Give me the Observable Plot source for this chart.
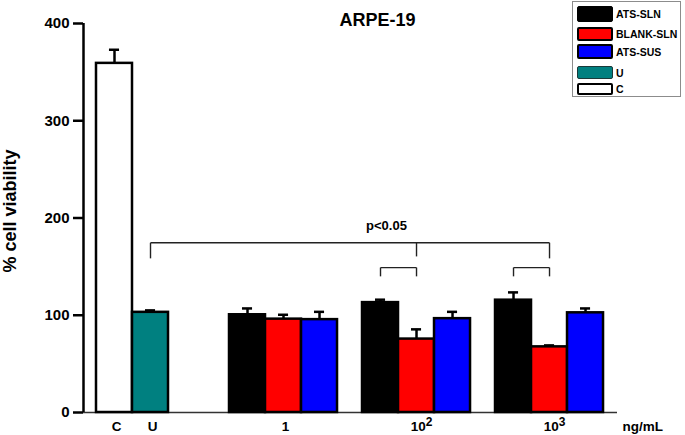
<!DOCTYPE html>
<html><head><meta charset="utf-8">
<script src="https://cdn.jsdelivr.net/npm/d3@7"></script>
<script src="https://cdn.jsdelivr.net/npm/@observablehq/plot@0.6"></script>
<style>
body{margin:0;background:#fff;font-family:"Liberation Sans",Arial,sans-serif;}
#wrap{position:relative;width:685px;height:435px;}
#legend{position:absolute;left:572px;top:1px;width:109px;height:96px;border:1.5px solid #8c8c8c;box-sizing:border-box;background:#fff;}
.sw{position:absolute;left:4px;width:36px;box-sizing:border-box;border-radius:2px;border:solid #000;}
.lb{position:absolute;left:43px;font-weight:bold;font-size:10.5px;line-height:12px;color:#000;}
svg text{font-family:"Liberation Sans",Arial,sans-serif;}
</style></head><body><div id="wrap"></div>
<script>
const title = "ARPE-19";
const yLabel = "% cell viability";
const unitLabel = "ng/mL";
const sigLabel = "p<0.05";
const controls = ["C", "U"];
const controlValues = [359, 103];
const controlErrors = [14, 2];
const controlColors = ["#ffffff", "#008080"];
const doses = ["1", "10²", "10³"];
const formulations = ["ATS-SLN", "BLANK-SLN", "ATS-SUS"];
const formulationColors = ["#000000", "#ff0000", "#0000ff"];
const atsSln = [100.5, 113, 115.5];
const atsSlnErr = [6.5, 3, 8];
const blankSln = [96, 75.5, 67.5];
const blankSlnErr = [4.5, 10, 1.5];
const atsSus = [95.5, 96.5, 102.5];
const atsSusErr = [8, 7, 4.5];
const yTicks = [0, 100, 200, 300, 400];
// significance brackets (levels in % viability)
const mainBracket = {from: "U", mid: ["10²", "BLANK-SLN"], to: ["10³", "BLANK-SLN"], top: 174.5, sideEnd: 158.5, midEnd: 160.5};
const pairBrackets = [["10²", "ATS-SLN", "BLANK-SLN"], ["10³", "ATS-SLN", "BLANK-SLN"]];
const pairTop = 149, pairEnd = 140;
const sigLevel = 174.5;

// ---- layout (bar-width units) ----
const GROUP_STEP = 3.694;
const XMIN = -0.361, XMAX = 14.47;
const seriesVals = [atsSln, blankSln, atsSus];
const seriesErrs = [atsSlnErr, blankSlnErr, atsSusErr];
const bars = [];
controls.forEach((c, i) => bars.push({key: c, value: controlValues[i], err: controlErrors[i], fill: controlColors[i], x1: i, upperOnly: c === "C"}));
doses.forEach((d, di) => formulations.forEach((f, fi) => bars.push({key: d + "|" + f, value: seriesVals[fi][di], err: seriesErrs[fi][di], fill: formulationColors[fi], x1: (di + 1) * GROUP_STEP + fi, upperOnly: false})));
bars.forEach(b => { b.x2 = b.x1 + 1; b.cx = b.x1 + 0.5; });
const cxOf = k => bars.find(b => b.key === k).cx;
const CAP = 0.14;
const caps = [];
bars.forEach(b => { caps.push({y: b.value + b.err, cx: b.cx}); if (!b.upperOnly) caps.push({y: b.value - b.err, cx: b.cx}); });

const controlLabels = controls.map(c => ({text: c, x: cxOf(c)}));
const doseLabelsShort = doses.filter(d => d.length === 1).map(d => ({text: d, x: cxOf(d + "|" + formulations[1])}));
const doseLabelsPow = doses.filter(d => d.length > 1).map(d => ({text: d, x: cxOf(d + "|" + formulations[1])}));

const uX = cxOf(mainBracket.from), midX = cxOf(mainBracket.mid.join("|")), toX = cxOf(mainBracket.to.join("|"));
const segs = [
  {x1: uX, y1: mainBracket.sideEnd, x2: uX, y2: mainBracket.top},
  {x1: uX, y1: mainBracket.top, x2: toX, y2: mainBracket.top},
  {x1: toX, y1: mainBracket.top, x2: toX, y2: mainBracket.sideEnd},
  {x1: midX, y1: mainBracket.top, x2: midX, y2: mainBracket.midEnd}
];
pairBrackets.forEach(([d, a, b]) => {
  const xa = cxOf(d + "|" + a), xb = cxOf(d + "|" + b);
  segs.push({x1: xa, y1: pairEnd, x2: xa, y2: pairTop}, {x1: xa, y1: pairTop, x2: xb, y2: pairTop}, {x1: xb, y1: pairTop, x2: xb, y2: pairEnd});
});

const labelStyle = {x: "x", y: d => 0, text: "text", lineAnchor: "top", dy: 9, fontSize: 13.5, fontWeight: "bold"};
const plot = Plot.plot({
  width: 685, height: 435,
  marginLeft: 83, marginRight: 68, marginTop: 23, marginBottom: 23,
  x: {type: "linear", domain: [XMIN, XMAX], axis: null},
  y: {domain: [0, 400], axis: null},
  marks: [
    Plot.ruleY([0], {stroke: "#333", strokeWidth: 1.5}),
    Plot.ruleX(bars, {x: "cx", y1: d => d.upperOnly ? d.value : d.value - d.err, y2: d => d.value + d.err, stroke: "#000", strokeWidth: 2.5}),
    Plot.ruleY(caps, {y: "y", x1: d => d.cx - CAP, x2: d => d.cx + CAP, stroke: "#000", strokeWidth: 2.5}),
    Plot.rect(bars, {x1: "x1", x2: "x2", y1: d => 0, y2: "value", fill: "fill", stroke: "#000", strokeWidth: 2.5}),
    Plot.axisY({ticks: yTicks, tickSize: 10, tickPadding: 4, tickFormat: d => String(d), fontSize: 15, fontWeight: "bold", strokeWidth: 2.5, label: null}),
    Plot.ruleX([XMIN], {y1: d => 0, y2: d => 400, stroke: "#000", strokeWidth: 2.5}),
    Plot.link(segs, {x1: "x1", y1: "y1", x2: "x2", y2: "y2", stroke: "#222", strokeWidth: 1.4}),
    Plot.text([sigLabel], {x: d => cxOf(doses[1] + "|" + formulations[0]), y: d => sigLevel, dx: 6, dy: -13, lineAnchor: "bottom", fontSize: 13, fontWeight: "bold"}),
    Plot.text(controlLabels, {...labelStyle, dx: 2}),
    Plot.text(doseLabelsShort, {...labelStyle, dx: 2}),
    Plot.text(doseLabelsPow, {...labelStyle, dx: 5}),
    Plot.text([unitLabel], {frameAnchor: "bottom-right", textAnchor: "start", lineAnchor: "top", dx: 5, dy: 9, fontSize: 13.5, fontWeight: "bold"}),
    Plot.text([title], {frameAnchor: "top", dx: 27, dy: -3, lineAnchor: "middle", fontSize: 18, fontWeight: "bold"}),
    Plot.text([yLabel], {frameAnchor: "left", textAnchor: "middle", rotate: -90, dx: -80, dy: -7, lineAnchor: "top", fontSize: 18, fontWeight: "bold"})
  ]
});
// superscripts
const sup = {"²": "2", "³": "3"};
plot.querySelectorAll("text").forEach(t => {
  const s = t.textContent;
  const m = s.match(/^(\d+)([²³])$/);
  if (m && t.children.length === 0) {
    t.textContent = "";
    const ns = "http://www.w3.org/2000/svg";
    const a = document.createElementNS(ns, "tspan"); a.textContent = m[1];
    const b = document.createElementNS(ns, "tspan"); b.textContent = sup[m[2]];
    b.setAttribute("dy", "-0.45em"); b.setAttribute("font-size", "12");
    t.appendChild(a); t.appendChild(b);
  }
});
const wrap = document.getElementById("wrap");
wrap.appendChild(plot);

// legend
const legendItems = [
  ...formulations.map((f, i) => ({label: f, color: formulationColors[i]})),
  ...controls.slice().reverse().map((c, i) => ({label: c, color: controlColors[controls.length - 1 - i]}))
];
const rowTop = [4, 25, 42, 64, 81];
const rowH = [16, 14, 15, 13, 12];
const rowB = [1, 2.5, 2.5, 1.5, 2];
const rowBC = ["#000", "#000", "#000", "#1a3a3a", "#000"];
const lg = document.createElement("div"); lg.id = "legend";
legendItems.forEach((it, i) => {
  const sw = document.createElement("div"); sw.className = "sw";
  sw.style.top = rowTop[i] + "px"; sw.style.height = rowH[i] + "px";
  sw.style.background = it.color; sw.style.borderWidth = rowB[i] + "px"; sw.style.borderColor = rowBC[i];
  const lb = document.createElement("div"); lb.className = "lb"; lb.textContent = it.label;
  lb.style.top = (rowTop[i] + rowH[i] / 2 - 6) + "px";
  lg.appendChild(sw); lg.appendChild(lb);
});
wrap.appendChild(lg);
</script></body></html>
